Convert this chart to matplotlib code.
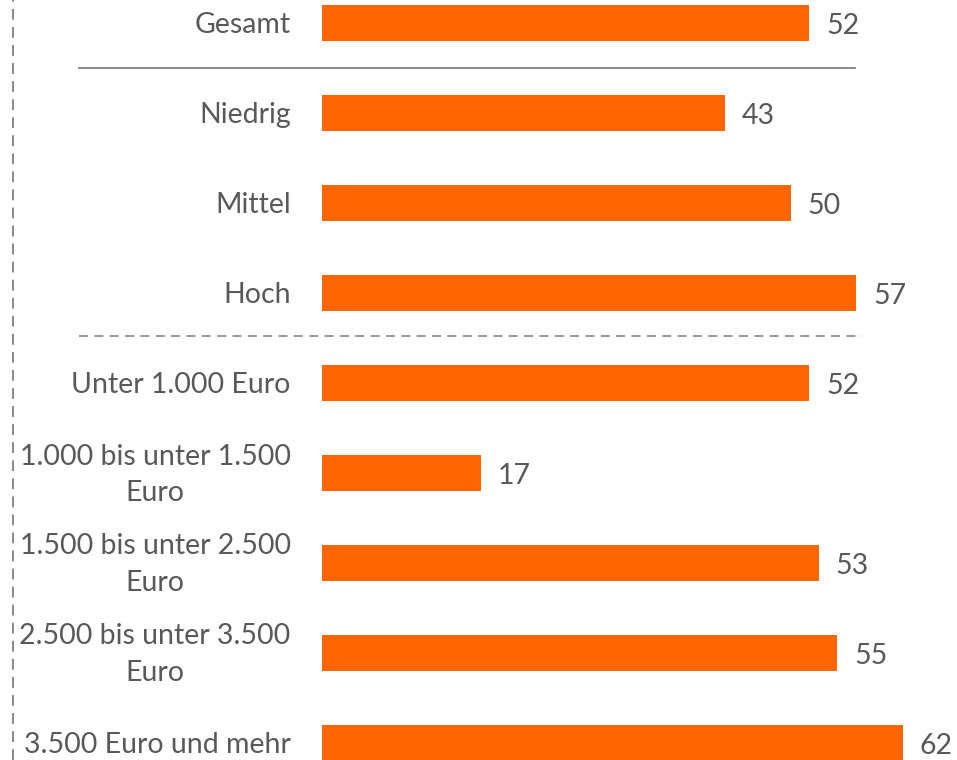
import numpy as np
import matplotlib.pyplot as plt

labels = ["Gesamt", "Niedrig", "Mittel", "Hoch", "Unter 1.000 Euro",
          "1.000 bis unter 1.500\nEuro", "1.500 bis unter 2.500\nEuro",
          "2.500 bis unter 3.500\nEuro", "3.500 Euro und mehr"]
values = [52, 43, 50, 57, 52, 17, 53, 55, 62]

orange = "#FF6600"
grey_txt = "#595959"

plt.rcParams['font.family'] = ['Lato', 'DejaVu Sans']

fig = plt.figure(figsize=(9.57, 7.60), dpi=100)
ax = fig.add_axes([0, 0, 1, 1])

pos = np.arange(len(values))
ax.barh(pos, values, height=0.4, color=orange)

# skala: 0 bei x=322px, 9.38 px je Einheit
ax.set_xlim(-34.3, 67.75)
ax.set_ylim(8.19, -0.256)
ax.axis("off")

for p, lab, v in zip(pos, labels, values):
    ax.text(-3.3, p + 0.02, lab, ha="right", va="center", multialignment="center",
            fontsize=20.5, color=grey_txt, linespacing=1.5)
    ax.text(v + 1.8, p + 0.03, str(v), ha="left", va="center",
            fontsize=20.5, color=grey_txt)

# Trennlinien
ax.plot([-25.9, 56.9], [0.5, 0.5], color="#808080", lw=1.3)
ax.plot([-25.9, 57.6], [3.48, 3.48], color="#909090", lw=1.3,
        linestyle=(0, (5, 3.5)))
ax.axvline(-32.9, color="#808080", lw=1.3, linestyle=(0, (6, 4)))

fig.savefig("out.png", dpi=100)
